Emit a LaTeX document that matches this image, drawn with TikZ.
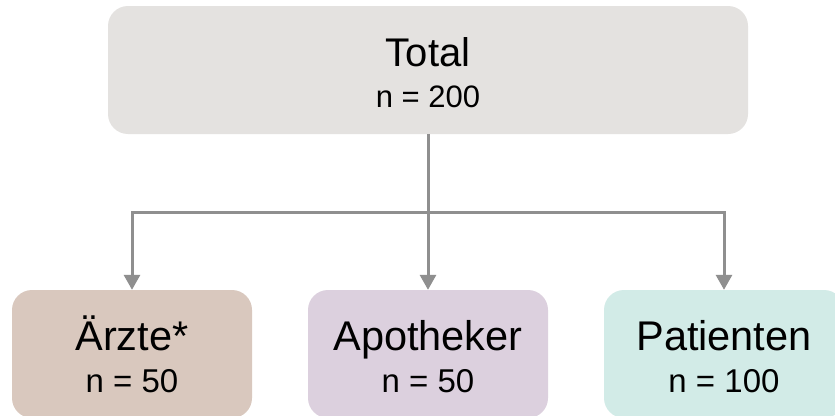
\documentclass[tikz,border=0pt]{standalone}
\usepackage{fontspec}
\setmainfont{Liberation Sans}
\usetikzlibrary{arrows.meta}
\definecolor{topc}{HTML}{E4E2E0}
\definecolor{arzc}{HTML}{D9C8BE}
\definecolor{apoc}{HTML}{DCD0DE}
\definecolor{patc}{HTML}{D2EBE7}
\definecolor{linec}{HTML}{8F8F8F}
\tikzset{
  box/.style={rectangle, rounded corners=20pt, draw=none, minimum width=240pt, minimum height=128pt, inner sep=0pt},
  big/.style={anchor=base, inner sep=0pt, font=\fontsize{40}{44}\selectfont},
  small/.style={anchor=base, inner sep=0pt, font=\fontsize{31}{35}\selectfont},
  bigb/.style={anchor=base, inner sep=0pt, font=\fontsize{41.5}{45}\selectfont},
  smallb/.style={anchor=base, inner sep=0pt, font=\fontsize{33}{37}\selectfont},
  conn/.style={draw=linec, line width=3pt, line join=miter},
  arr/.style={conn, -{Triangle[width=16pt,length=15pt]}, linec}
}
\begin{document}
\begin{tikzpicture}[x=1pt,y=-1pt]
\clip (0,0) rectangle (835,415);
\fill[white] (0,0) rectangle (835,415);
\node[box, fill=topc, minimum width=640pt] (total) at (428,70) {};
\node[box, fill=arzc] (arzte) at (132,354) {};
\node[box, fill=apoc] (apo) at (428,354) {};
\node[box, fill=patc] (pat) at (724,354) {};
\node[big] (t1) at (428,66) {Total};
\node[small] (t2) at (428,107) {n = 200};
\node[bigb] (a1) at (132,350) {Ärzte*};
\node[smallb] (a2) at (132,392) {n = 50};
\node[bigb] (p1) at (428,350) {Apotheker};
\node[smallb] (p2) at (428,392) {n = 50};
\node[bigb] (q1) at (724,350) {Patienten};
\node[smallb] (q2) at (724,392) {n = 100};
\coordinate (j) at (428,212);
\draw[conn] (total.south) -- (j);
\draw[arr] (j) -| (arzte.north);
\draw[arr] (j) -| (pat.north);
\draw[arr] (j) -- (apo.north);
\end{tikzpicture}
\end{document}
